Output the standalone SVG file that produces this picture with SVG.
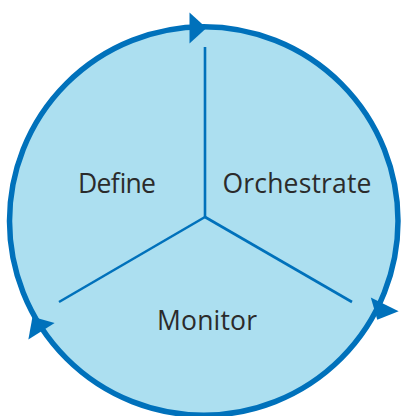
<svg xmlns="http://www.w3.org/2000/svg" width="401" height="416" viewBox="0 0 401 416">
<style>
.ring{fill:#acdff0;stroke:#0071bb;stroke-width:5.5}
.div{stroke:#0071bb;stroke-width:2.6;fill:none}
.ah{fill:#0071bb}
.lbl{font-family:"Open Sans","Noto Sans",sans-serif;font-size:26.5px;fill:#2b2b2b;text-anchor:middle}
</style>
<defs>
<path id="arrow" class="ah" d="M-8.5,-15.5 L8.5,0 L-8.5,15.5 Z"/>
</defs>
<g id="circle">
<circle class="ring" cx="203.75" cy="221" r="194.25"/>
</g>
<g id="connectors">
<line class="div" x1="205" y1="217" x2="205" y2="47"/>
<line class="div" x1="205" y1="217" x2="59" y2="302"/>
<line class="div" x1="205" y1="217" x2="352" y2="302"/>
<use href="#arrow" transform="translate(198,28)"/>
<use href="#arrow" transform="translate(381,312) rotate(116)"/>
<use href="#arrow" transform="translate(37,324) rotate(238)"/>
</g>
<g id="define"><text class="lbl" x="117" y="193" textLength="78" lengthAdjust="spacing">Define</text></g>
<g id="orchestrate"><text class="lbl" x="297" y="193" textLength="149" lengthAdjust="spacing">Orchestrate</text></g>
<g id="monitor"><text class="lbl" x="207" y="330" textLength="100" lengthAdjust="spacing">Monitor</text></g>
</svg>
